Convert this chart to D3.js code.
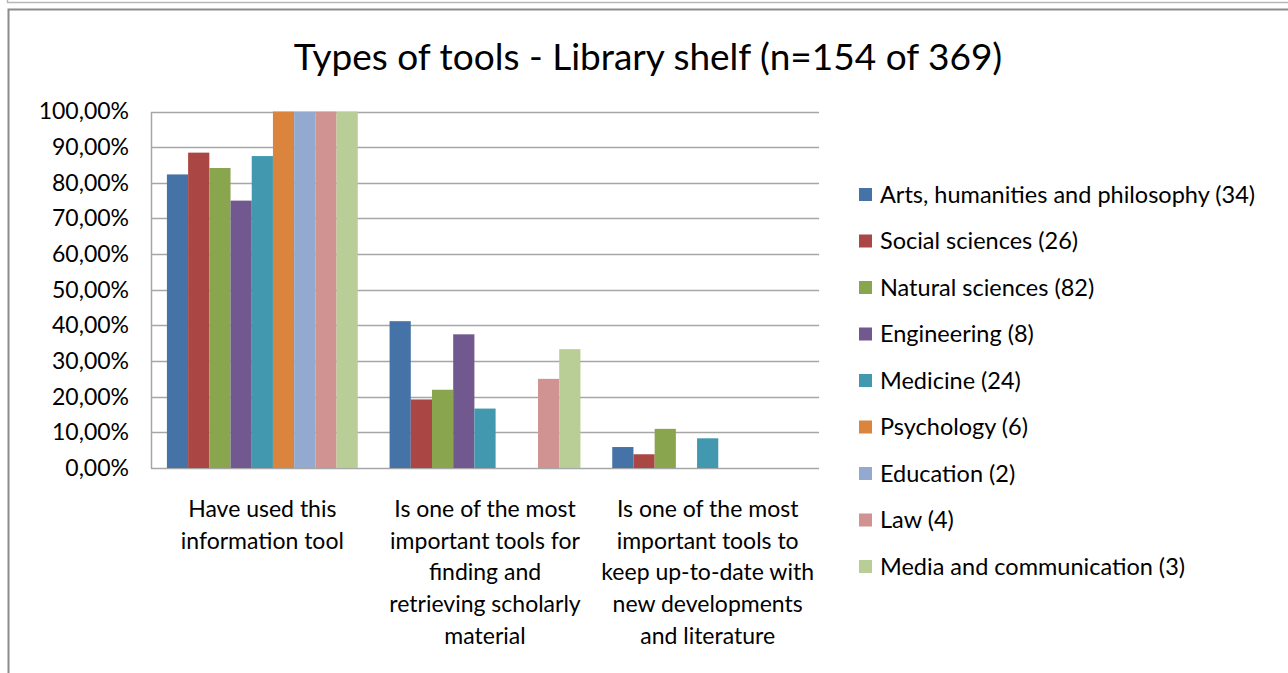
<!DOCTYPE html>
<html><head><meta charset="utf-8">
<script src="https://cdn.jsdelivr.net/npm/d3@7"></script>
<style>
html,body{margin:0;padding:0;background:#fff;overflow:hidden;}
svg{display:block;font-family:Lato, "Open Sans", sans-serif;}
</style></head>
<body>
<svg id="chart" width="1288" height="673"></svg>
<script>
const title = "Types of tools - Library shelf (n=154 of 369)";
const categories = [
  ["Have used this", "information tool"],
  ["Is one of the most", "important tools for", "finding and", "retrieving scholarly", "material"],
  ["Is one of the most", "important tools to", "keep up-to-date with", "new developments", "and literature"]
];
const seriesNames = [
  "Arts, humanities and philosophy (34)",
  "Social sciences (26)",
  "Natural sciences (82)",
  "Engineering (8)",
  "Medicine (24)",
  "Psychology (6)",
  "Education (2)",
  "Law (4)",
  "Media and communication (3)"
];
const seriesColors = ["#4572A7","#AA4643","#89A54E","#71588F","#4198AF","#DB843D","#93A9CF","#D19392","#B9CD96"];
// values per series, one per category (percent)
const arts        = [82.35, 41.18, 5.88];
const social      = [88.46, 19.23, 3.85];
const natural     = [84.15, 21.95, 10.98];
const engineering = [75.00, 37.50, 0];
const medicine    = [87.50, 16.67, 8.33];
const psychology  = [100, 0, 0];
const education   = [100, 0, 0];
const law         = [100, 25.00, 0];
const media       = [100, 33.33, 0];
const seriesValues = [arts, social, natural, engineering, medicine, psychology, education, law, media];
const yTicks = [0,10,20,30,40,50,60,70,80,90,100];

const svg = d3.select("#chart");

// frame
svg.append("line").attr("x1",7).attr("x2",1288).attr("y1",2.5).attr("y2",2.5).attr("stroke","#b8b8b8").attr("stroke-width",1.5);
svg.append("line").attr("x1",7.5).attr("x2",7.5).attr("y1",0).attr("y2",3).attr("stroke","#b8b8b8").attr("stroke-width",1.5);
svg.append("path").attr("d","M8.5,673 L8.5,9.5 L1290,9.5").attr("fill","none").attr("stroke","#8c8c8c").attr("stroke-width",2);

const plot = {left:151, right:819, top:111.5, bottom:468};
const x0 = d3.scaleBand().domain(d3.range(categories.length)).range([plot.left, plot.right]);
const bw = x0.bandwidth();
// gap width 150%: 9 bars + 1.5 bar widths of gap per category
const x1 = d3.scaleBand().domain(d3.range(seriesNames.length))
  .range([bw*0.75/10.5, bw - bw*0.75/10.5]).paddingInner(0).paddingOuter(0);
const y = d3.scaleLinear().domain([0,100]).range([plot.bottom, plot.top]);

// gridlines
svg.append("g").selectAll("line").data(yTicks).join("line")
  .attr("x1",plot.left).attr("x2",plot.right)
  .attr("y1",d=>Math.round(y(d))+0.5).attr("y2",d=>Math.round(y(d))+0.5)
  .attr("stroke","#a6a6a6").attr("stroke-width",1.5);

// y axis
const yAxis = d3.axisLeft(y).tickValues(yTicks).tickSize(0).tickPadding(22)
  .tickFormat(d=>d3.format(".2f")(d).replace(".",",")+"%");
const ga = svg.append("g").attr("transform",`translate(${plot.left},0)`).call(yAxis);
ga.select(".domain").attr("stroke","#a6a6a6").attr("stroke-width",1.5);
ga.selectAll("text").attr("font-size",23).attr("fill","#000").attr("font-family","Lato");

// bars
const groups = svg.append("g").selectAll("g").data(categories).join("g")
  .attr("transform",(d,i)=>`translate(${x0(i)},0)`);
groups.selectAll("rect").data((d,ci)=>seriesValues.map((s,si)=>({si, v:s[ci]}))).join("rect")
  .attr("x",d=>x1(d.si))
  .attr("width",x1.bandwidth())
  .attr("y",d=>y(d.v))
  .attr("height",d=>plot.bottom - y(d.v))
  .attr("fill",d=>seriesColors[d.si]);

// category labels
const lab = svg.append("g").selectAll("text").data(categories).join("text")
  .attr("text-anchor","middle").attr("font-size",23).attr("fill","#000")
  .attr("x",(d,i)=>x0(i)+bw/2).attr("y",517);
lab.selectAll("tspan").data(d=>d).join("tspan")
  .attr("x",function(){return this.parentNode.getAttribute("x");})
  .attr("dy",(d,i)=>i===0?0:31.7).text(d=>d);

// title
svg.append("text").attr("x",648).attr("y",70).attr("text-anchor","middle")
  .attr("font-size",37).attr("fill","#000").text(title);

// legend
const leg = svg.append("g").selectAll("g").data(seriesNames).join("g")
  .attr("transform",(d,i)=>`translate(859,${194.5 + i*46.5})`);
leg.append("rect").attr("x",0).attr("y",-6.5).attr("width",13).attr("height",13).attr("fill",(d,i)=>seriesColors[i]);
leg.append("text").attr("x",21).attr("y",0).attr("dy","0.35em").attr("font-size",23.5).attr("fill","#000").text(d=>d);
</script>
</body></html>
